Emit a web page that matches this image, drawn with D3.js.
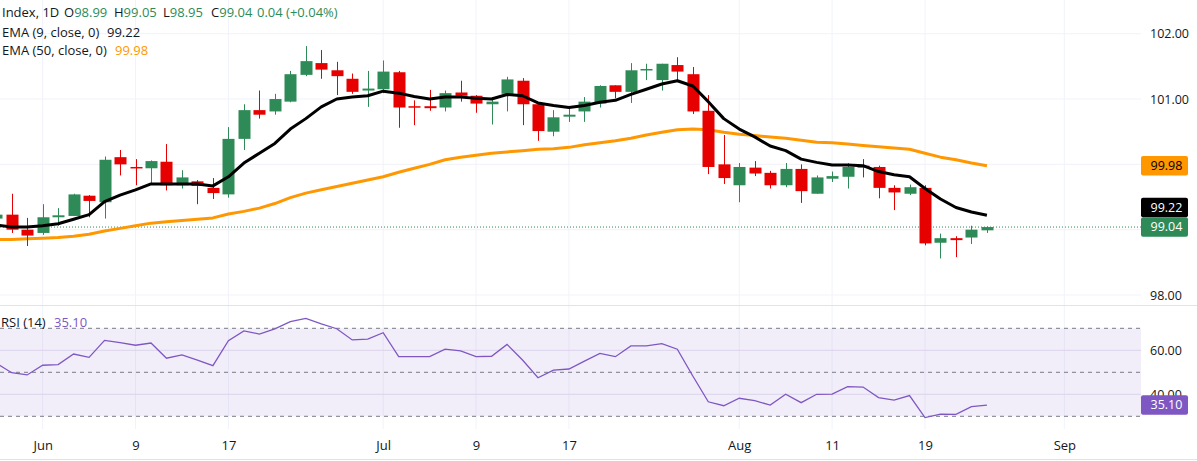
<!DOCTYPE html>
<html><head><meta charset="utf-8">
<script src="https://cdn.jsdelivr.net/npm/d3@7"></script>
<style>
html,body{margin:0;padding:0;background:#fff;}
svg{display:block;font-family:"Open Sans",sans-serif;}
</style></head><body>
<svg id="c" width="1197" height="461"></svg>
<script>
// ---- data ----
const opens  = [99.17,99.23,99.00,98.95,99.19,99.21,99.52,99.42,100.11,99.96,99.94,100.04,99.68,99.74,99.64,99.54,100.39,100.83,100.81,100.96,
                101.37,101.55,101.44,101.31,101.13,101.15,101.41,100.89,100.89,100.87,101.10,101.05,100.92,101.08,101.28,100.92,100.50,100.73,100.81,100.93,
                101.21,101.11,101.45,101.29,101.52,101.38,100.82,100.00,99.68,99.95,99.87,99.68,99.93,99.55,99.78,99.81,99.98,99.96,99.64,99.55,
                99.64,98.80,98.87,98.88,98.99];
const highs  = [99.26,99.55,99.18,99.39,99.33,99.55,99.53,100.12,100.22,100.08,100.06,100.31,99.91,99.76,99.79,100.57,100.92,101.13,101.08,101.43,
                101.81,101.75,101.57,101.39,101.43,101.59,101.43,100.98,101.14,101.13,101.28,101.06,101.03,101.34,101.32,100.93,100.83,100.86,101.03,101.21,
                101.21,101.55,101.54,101.54,101.64,101.49,101.06,100.45,100.02,100.05,99.90,100.02,100.00,99.83,99.89,100.02,100.08,99.98,99.68,99.69,
                99.68,98.94,98.90,99.06,99.05];
const lows   = [99.15,98.95,98.75,98.92,99.06,99.21,99.19,99.17,99.83,99.68,99.71,99.60,99.63,99.39,99.47,99.49,100.22,100.70,100.76,100.95,
                101.35,101.31,101.06,101.08,100.88,101.09,100.56,100.60,100.82,100.81,100.96,100.79,100.61,100.81,100.60,100.36,100.43,100.65,100.65,100.87,
                101.01,100.94,101.29,101.13,101.26,100.77,99.85,99.70,99.42,99.82,99.63,99.65,99.41,99.55,99.73,99.63,99.80,99.48,99.30,99.53,
                98.76,98.56,98.58,98.78,98.95];
const closes = [99.23,99.00,98.91,99.19,99.22,99.54,99.44,100.07,100.00,99.95,100.05,99.68,99.80,99.67,99.56,100.39,100.83,100.76,101.00,101.38,
                101.58,101.45,101.35,101.11,101.16,101.42,100.87,100.87,100.86,101.09,101.05,100.93,100.96,101.30,100.92,100.51,100.72,100.76,100.96,101.20,
                101.11,101.44,101.46,101.54,101.42,100.81,99.96,99.79,99.96,99.86,99.68,99.93,99.59,99.80,99.82,99.96,99.95,99.64,99.57,99.65,
                98.79,98.87,98.84,99.00,99.04];
const ema9   = [99.07,99.04,99.04,99.06,99.09,99.16,99.23,99.43,99.53,99.61,99.70,99.70,99.70,99.70,99.67,99.81,100.02,100.17,100.32,100.54,
                100.70,100.88,101.00,101.03,101.05,101.12,101.09,101.04,101.00,101.03,101.03,101.01,101.00,101.07,101.05,100.94,100.90,100.87,100.90,100.95,
                100.98,101.07,101.15,101.23,101.28,101.20,100.96,100.70,100.54,100.42,100.28,100.21,100.08,100.03,99.99,99.99,99.98,99.89,99.84,99.81,
                99.63,99.47,99.34,99.27,99.22];
const ema50  = [98.85,98.85,98.86,98.87,98.88,98.90,98.93,98.98,99.02,99.06,99.10,99.12,99.14,99.16,99.18,99.24,99.28,99.33,99.40,99.49,
                99.56,99.61,99.66,99.71,99.76,99.81,99.88,99.94,100.00,100.07,100.11,100.14,100.17,100.19,100.21,100.23,100.24,100.26,100.30,100.33,
                100.36,100.40,100.45,100.49,100.53,100.54,100.53,100.49,100.46,100.44,100.42,100.40,100.37,100.34,100.33,100.31,100.29,100.27,100.25,100.23,
                100.17,100.11,100.07,100.02,99.98];
const rsi    = [54.1,49.8,48.8,53.2,53.5,58.3,56.8,64.5,63.5,62.3,63.3,56.4,57.9,55.5,53.0,64.4,68.8,67.4,69.7,73.0,
                74.5,72.0,69.8,64.7,65.1,68.0,57.1,57.1,57.1,60.5,59.7,57.1,57.3,62.7,55.6,47.5,51.0,51.5,55.1,58.6,
                57.1,62.0,62.0,63.0,60.5,48.3,36.6,34.8,38.2,37.1,35.1,40.0,36.2,40.0,40.1,43.5,43.3,38.5,37.4,39.4,
                29.4,31.0,30.9,34.4,35.1];
const tickIndex   = [3,9,15,25,31,37,48,54,60,69];
const tickLabels  = ["Jun","9","17","Jul","9","17","Aug","11","19","Sep"];
const priceGrid   = [98,99,100,101,102];
const priceLabels = [98,101,102];      // 99.00 and 100.00 sit under the value badges
const rsiTicks    = [40,60];
const rsiLevels   = [70,50,30];

// ---- layout ----
const W = 1197, H = 461, plotR = 1141, mainBot = 305, rsiBot = 429;
const GREEN = "#2e8b57", RED = "#e60000", DARK = "#131722", ORANGE = "#ff9800", PURPLE = "#7e57c2", GRID = "#f0f3fa";
const n = closes.length;
const step = 15.48;
const x  = d3.scaleLinear().domain([0, n - 1]).range([-3.8, -3.8 + (n - 1) * step]);
const y  = d3.scaleLinear().domain([98, 102]).range([295, 33.7]);
const yr = d3.scaleLinear().domain([30, 70]).range([416.3, 328.3]);

const svg = d3.select("#c");
const defs = svg.append("defs");
defs.append("clipPath").attr("id", "cm").append("rect").attr("x", 0).attr("y", 0).attr("width", plotR).attr("height", mainBot);
defs.append("clipPath").attr("id", "cr").append("rect").attr("x", 0).attr("y", mainBot).attr("width", plotR).attr("height", rsiBot - mainBot);

// vertical grid
svg.append("g").selectAll("line").data(tickIndex).join("line")
  .attr("x1", d => x(d)).attr("x2", d => x(d)).attr("y1", 0).attr("y2", rsiBot)
  .attr("stroke", GRID).attr("stroke-width", 1);

// horizontal grid main
svg.append("g").selectAll("line").data(priceGrid).join("line")
  .attr("x1", 0).attr("x2", plotR).attr("y1", d => y(d)).attr("y2", d => y(d))
  .attr("stroke", GRID).attr("stroke-width", 1);

// RSI grid + band
svg.append("g").selectAll("line").data(rsiTicks).join("line")
  .attr("x1", 0).attr("x2", plotR).attr("y1", d => yr(d)).attr("y2", d => yr(d))
  .attr("stroke", "#e6e2ee").attr("stroke-width", 1);
svg.append("rect").attr("x", 0).attr("width", plotR)
  .attr("y", yr(70)).attr("height", yr(30) - yr(70))
  .attr("fill", PURPLE).attr("fill-opacity", 0.1);
svg.append("g").selectAll("line").data(rsiLevels).join("line")
  .attr("x1", 0).attr("x2", plotR).attr("y1", d => yr(d)).attr("y2", d => yr(d))
  .attr("stroke", "#787b86").attr("stroke-width", 1).attr("stroke-dasharray", "4,4");

// separators
svg.append("line").attr("x1", 0).attr("x2", W).attr("y1", mainBot + 0.5).attr("y2", mainBot + 0.5).attr("stroke", "#e0e3eb");
svg.append("line").attr("x1", 0).attr("x2", W).attr("y1", 459.5).attr("y2", 459.5).attr("stroke", "#e0e3eb");

// main pane
const main = svg.append("g").attr("clip-path", "url(#cm)");
main.append("line").attr("x1", 0).attr("x2", plotR)
  .attr("y1", y(closes[n - 1])).attr("y2", y(closes[n - 1]))
  .attr("stroke", GREEN).attr("stroke-width", 1).attr("stroke-dasharray", "1,2");

const line = d3.line().x((d, i) => x(i)).y(d => y(d));
main.append("path").datum(ema50).attr("d", line).attr("fill", "none")
  .attr("stroke", ORANGE).attr("stroke-width", 3).attr("stroke-linejoin", "round");

const idx = d3.range(n);
const col = i => closes[i] >= opens[i] ? GREEN : RED;
main.append("g").selectAll("line").data(idx).join("line")
  .attr("x1", i => Math.round(x(i)) + 0.5).attr("x2", i => Math.round(x(i)) + 0.5)
  .attr("y1", i => y(highs[i])).attr("y2", i => y(lows[i]))
  .attr("stroke", col).attr("stroke-width", 1);
const bw = 12;
main.append("g").selectAll("rect").data(idx).join("rect")
  .attr("x", i => Math.round(x(i)) + 0.5 - bw / 2)
  .attr("width", bw)
  .attr("y", i => y(Math.max(opens[i], closes[i])))
  .attr("height", i => Math.max(1.5, Math.abs(y(opens[i]) - y(closes[i]))))
  .attr("fill", col);

main.append("path").datum(ema9).attr("d", line).attr("fill", "none")
  .attr("stroke", "#000").attr("stroke-width", 3).attr("stroke-linejoin", "round");

// RSI pane
const rp = svg.append("g").attr("clip-path", "url(#cr)");
rp.append("path").datum(rsi).attr("d", d3.line().x((d, i) => x(i)).y(d => yr(d)))
  .attr("fill", "none").attr("stroke", PURPLE).attr("stroke-width", 1.3);

// axes
const ax = svg.append("g").attr("transform", `translate(0,430)`)
  .call(d3.axisBottom(x).tickValues(tickIndex).tickFormat((d, i) => tickLabels[i]).tickSize(0).tickPadding(10.5));
ax.select(".domain").remove();
ax.selectAll("text").attr("font-size", 13).attr("fill", DARK).attr("font-family", "Open Sans, sans-serif");

const ay = svg.append("g").attr("transform", `translate(${plotR},0)`)
  .call(d3.axisRight(y).tickValues(priceLabels).tickFormat(d3.format(".2f")).tickSize(0).tickPadding(9));
ay.select(".domain").remove();
ay.selectAll("text").attr("font-size", 12.5).attr("fill", DARK).attr("font-family", "Open Sans, sans-serif");

const ayr = svg.append("g").attr("transform", `translate(${plotR},0)`)
  .call(d3.axisRight(yr).tickValues(rsiTicks).tickFormat(d3.format(".2f")).tickSize(0).tickPadding(9));
ayr.select(".domain").remove();
ayr.selectAll("text").attr("font-size", 12.5).attr("fill", DARK).attr("font-family", "Open Sans, sans-serif");

// badges
const bh = 19.5;
function badge(cy, txt, bg, fg) {
  const g = svg.append("g");
  g.append("rect").attr("x", plotR).attr("y", cy - bh / 2).attr("width", 47).attr("height", bh).attr("rx", 2).attr("fill", bg);
  g.append("text").attr("x", plotR + 9.5).attr("y", cy).attr("dy", "0.35em").attr("font-size", 12.5)
    .attr("fill", fg).text(txt);
}
const f2 = d3.format(".2f");
const yLast = y(closes[n - 1]);
const yE9 = Math.min(y(ema9[n - 1]), yLast - bh);
badge(y(ema50[n - 1]), f2(ema50[n - 1]), ORANGE, "#000");
badge(yE9, f2(ema9[n - 1]), "#000", "#fff");
badge(yLast, f2(closes[n - 1]), GREEN, "#fff");
badge(yr(rsi[n - 1]), f2(rsi[n - 1]), PURPLE, "#fff");

// legend
const chg = closes[n - 1] - closes[n - 2];
const lg = svg.append("g").attr("font-size", 13).attr("fill", DARK);
const l1 = lg.append("text").attr("y", 16.9);
l1.append("tspan").attr("x", 2).text("Index, 1D");
[["O", opens[n - 1], 64], ["H", highs[n - 1], 114], ["L", lows[n - 1], 163], ["C", closes[n - 1], 211]].forEach(([k, v, px]) => {
  l1.append("tspan").attr("x", px).text(k);
  l1.append("tspan").attr("fill", GREEN).text(f2(v));
});
l1.append("tspan").attr("x", 257).attr("fill", GREEN).text(`${f2(chg)} (+${f2(chg / closes[n - 2] * 100)}%)`);
const l2 = lg.append("text").attr("y", 36.6);
l2.append("tspan").attr("x", 2).text("EMA (9, close, 0)");
l2.append("tspan").attr("x", 107).text(f2(ema9[n - 1]));
const l3 = lg.append("text").attr("y", 54.6);
l3.append("tspan").attr("x", 2).text("EMA (50, close, 0)");
l3.append("tspan").attr("x", 115).attr("fill", ORANGE).text(f2(ema50[n - 1]));
const l4 = lg.append("text").attr("y", 327);
l4.append("tspan").attr("x", 1).text("RSI (14)");
l4.append("tspan").attr("x", 54).attr("fill", PURPLE).text(f2(rsi[n - 1]));
</script>
</body></html>
